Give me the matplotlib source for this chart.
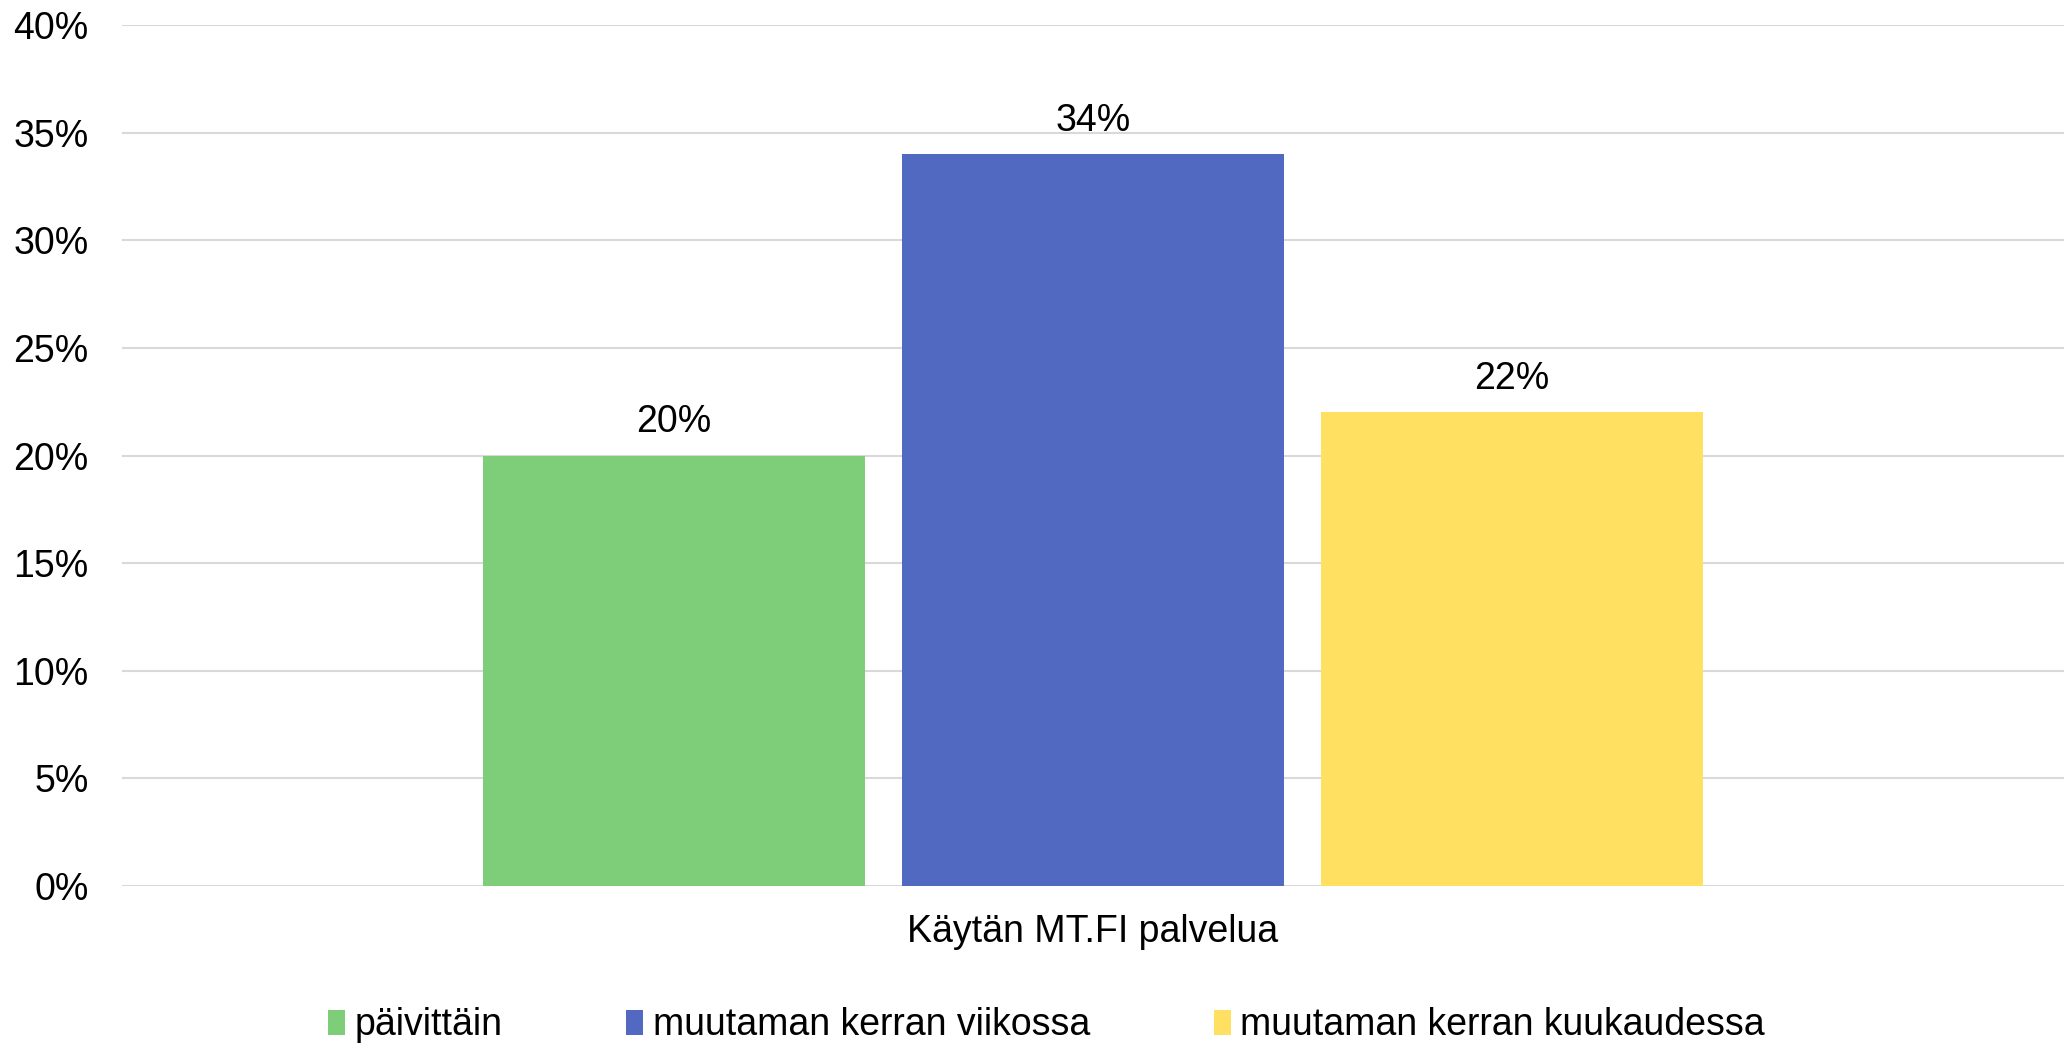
import matplotlib.pyplot as plt
from matplotlib.patches import Patch
import numpy as np

# data
category = 'Käytän MT.FI palvelua'
series = ['päivittäin', 'muutaman kerran viikossa', 'muutaman kerran kuukaudessa']
values = [20, 34, 22]
colors = ['#7ECD79', '#5169C1', '#FFE060']
y_ticks = [0, 5, 10, 15, 20, 25, 30, 35, 40]


def main():
    plt.rcParams['font.family'] = ['Liberation Sans', 'DejaVu Sans']
    fig = plt.figure(figsize=(20.64, 10.43), dpi=100)
    ax = fig.add_axes([0.0591, 0.1505, 0.9409, 0.8255])

    fs = 27
    width = 0.1967
    step = 0.2158
    offsets = (np.arange(len(values)) - 1) * step + 0.5
    for x, v, c, name in zip(offsets, values, colors, series):
        ax.bar(x, v, width=width, color=c, label=name, linewidth=0, zorder=3)
        ax.annotate(f'{v}%', (x, v), xytext=(0, 11), textcoords='offset points',
                    ha='center', va='bottom', fontsize=fs)

    ax.set_xlim(0, 1)
    ax.set_ylim(0, 40)
    ax.set_yticks(y_ticks)
    ax.set_yticklabels([f'{t}%' for t in y_ticks])
    ax.set_xticks([0.5])
    ax.set_xticklabels([category])
    ax.tick_params(axis='y', length=0, pad=24, labelsize=fs)
    ax.tick_params(axis='x', length=0, pad=20, labelsize=fs)
    ax.grid(axis='y', color='#D9D9D9', linewidth=1.5, zorder=0)
    for s in ax.spines.values():
        s.set_visible(False)

    handles = [Patch(color=c, linewidth=0) for c in colors]
    fig.legend(handles, series, loc='center', bbox_to_anchor=(0.507, 0.017), ncol=3,
               frameon=False, fontsize=fs, handlelength=0.45, handleheight=0.65,
               handletextpad=0.25, columnspacing=3.3, borderaxespad=0)

    fig.savefig('out.png', dpi=100)


if __name__ == "__main__":
    main()
